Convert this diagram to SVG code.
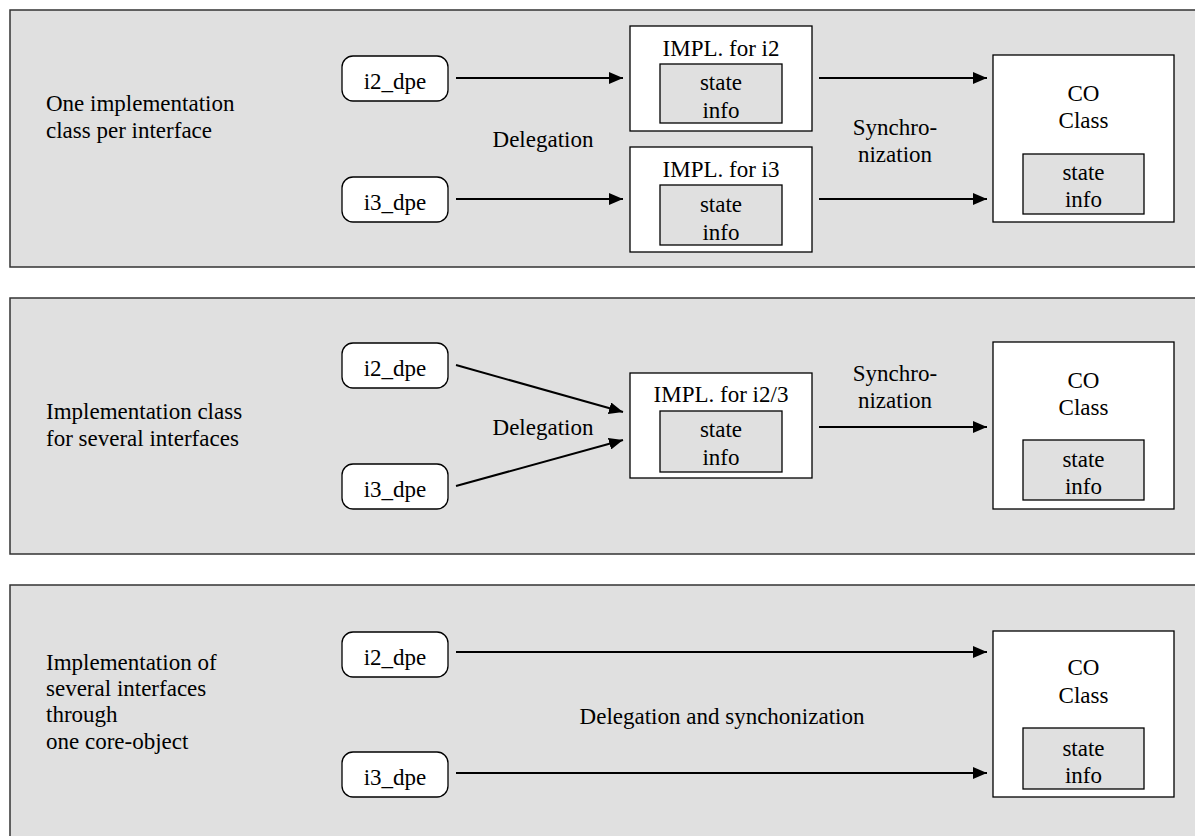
<svg xmlns="http://www.w3.org/2000/svg" width="1195" height="836" viewBox="0 0 1195 836" font-family="'Liberation Serif','Times New Roman',serif">
<defs>
<style>
text{font-family:'Liberation Serif','Times New Roman',serif;font-size:23px;fill:#000}
.c{text-anchor:middle}
.panel{fill:#e0e0e0;stroke:#333;stroke-width:1.5}
.dpe{fill:#fff;stroke:#000;stroke-width:1.3}
.box{fill:#fff;stroke:#000;stroke-width:1.3}
.state{fill:#e0e0e0;stroke:#000;stroke-width:1.3}
.arr{stroke:#000;stroke-width:2;fill:none;marker-end:url(#ah)}
</style>
<marker id="ah" markerUnits="userSpaceOnUse" markerWidth="14" markerHeight="12" refX="14" refY="6" orient="auto">
<path d="M0,0 L14,6 L0,12 z" fill="#000"/>
</marker>
</defs>

<g id="panel1">
<rect class="panel" x="10" y="10" width="1200" height="257"/>
<text x="46" y="111">One implementation</text>
<text x="46" y="138">class per interface</text>
</g>
<g id="panel2">
<rect class="panel" x="10" y="298" width="1200" height="256"/>
<text x="46" y="419">Implementation class</text>
<text x="46" y="446">for several interfaces</text>
</g>
<g id="panel3">
<rect class="panel" x="10" y="585" width="1200" height="270"/>
<text x="46" y="670">Implementation of</text>
<text x="46" y="696">several interfaces</text>
<text x="46" y="722">through</text>
<text x="46" y="749">one core-object</text>
</g>

<g id="p1-i2dpe"><rect class="dpe" x="342" y="56" width="106" height="45" rx="11"/><text class="c" x="395" y="89">i2_dpe</text></g>
<g id="p1-i3dpe"><rect class="dpe" x="342" y="177" width="106" height="45" rx="11"/><text class="c" x="395" y="210">i3_dpe</text></g>
<g id="p1-impl2"><rect class="box" x="630" y="26" width="182" height="105"/><text class="c" x="721" y="56">IMPL. for i2</text>
<rect class="state" x="660" y="64" width="122" height="59"/><text class="c" x="721" y="90">state</text><text class="c" x="721" y="118">info</text></g>
<g id="p1-impl3"><rect class="box" x="630" y="147" width="182" height="105"/><text class="c" x="721" y="177">IMPL. for i3</text>
<rect class="state" x="660" y="185" width="122" height="60"/><text class="c" x="721" y="212">state</text><text class="c" x="721" y="240">info</text></g>
<g id="p1-co"><rect class="box" x="993" y="55" width="181" height="167"/><text class="c" x="1083.5" y="101">CO</text><text class="c" x="1083.5" y="128">Class</text>
<rect class="state" x="1023" y="154" width="121" height="60"/><text class="c" x="1083.5" y="180">state</text><text class="c" x="1083.5" y="207">info</text></g>

<g id="p2-i2dpe"><rect class="dpe" x="342" y="343" width="106" height="45" rx="11"/><text class="c" x="395" y="376">i2_dpe</text></g>
<g id="p2-i3dpe"><rect class="dpe" x="342" y="464" width="106" height="45" rx="11"/><text class="c" x="395" y="497">i3_dpe</text></g>
<g id="p2-impl"><rect class="box" x="630" y="373" width="182" height="105"/><text class="c" x="721" y="402">IMPL. for i2/3</text>
<rect class="state" x="660" y="411" width="122" height="61"/><text class="c" x="721" y="437">state</text><text class="c" x="721" y="465">info</text></g>
<g id="p2-co"><rect class="box" x="993" y="342" width="181" height="167"/><text class="c" x="1083.5" y="388">CO</text><text class="c" x="1083.5" y="415">Class</text>
<rect class="state" x="1023" y="440" width="121" height="60"/><text class="c" x="1083.5" y="467">state</text><text class="c" x="1083.5" y="494">info</text></g>

<g id="p3-i2dpe"><rect class="dpe" x="342" y="632" width="106" height="45" rx="11"/><text class="c" x="395" y="665">i2_dpe</text></g>
<g id="p3-i3dpe"><rect class="dpe" x="342" y="752" width="106" height="45" rx="11"/><text class="c" x="395" y="785">i3_dpe</text></g>
<g id="p3-co"><rect class="box" x="993" y="631" width="181" height="166"/><text class="c" x="1083.5" y="675">CO</text><text class="c" x="1083.5" y="703">Class</text>
<rect class="state" x="1023" y="728" width="121" height="61"/><text class="c" x="1083.5" y="756">state</text><text class="c" x="1083.5" y="783">info</text></g>

<g id="connectors">
<line class="arr" x1="456" y1="78" x2="623" y2="78"/>
<line class="arr" x1="456" y1="199" x2="623" y2="199"/>
<line class="arr" x1="819" y1="78" x2="987" y2="78"/>
<line class="arr" x1="819" y1="199" x2="987" y2="199"/>
<text class="c" x="543" y="147">Delegation</text>
<text class="c" x="895" y="135">Synchro-</text>
<text class="c" x="895" y="162">nization</text>

<line class="arr" x1="456" y1="365" x2="623" y2="412"/>
<line class="arr" x1="456" y1="486" x2="623" y2="440"/>
<line class="arr" x1="819" y1="427" x2="987" y2="427"/>
<text class="c" x="543" y="435">Delegation</text>
<text class="c" x="895" y="381">Synchro-</text>
<text class="c" x="895" y="408">nization</text>

<line class="arr" x1="456" y1="652" x2="987" y2="652"/>
<line class="arr" x1="456" y1="773" x2="987" y2="773"/>
<text class="c" x="722" y="724">Delegation and synchonization</text>
</g>
</svg>
